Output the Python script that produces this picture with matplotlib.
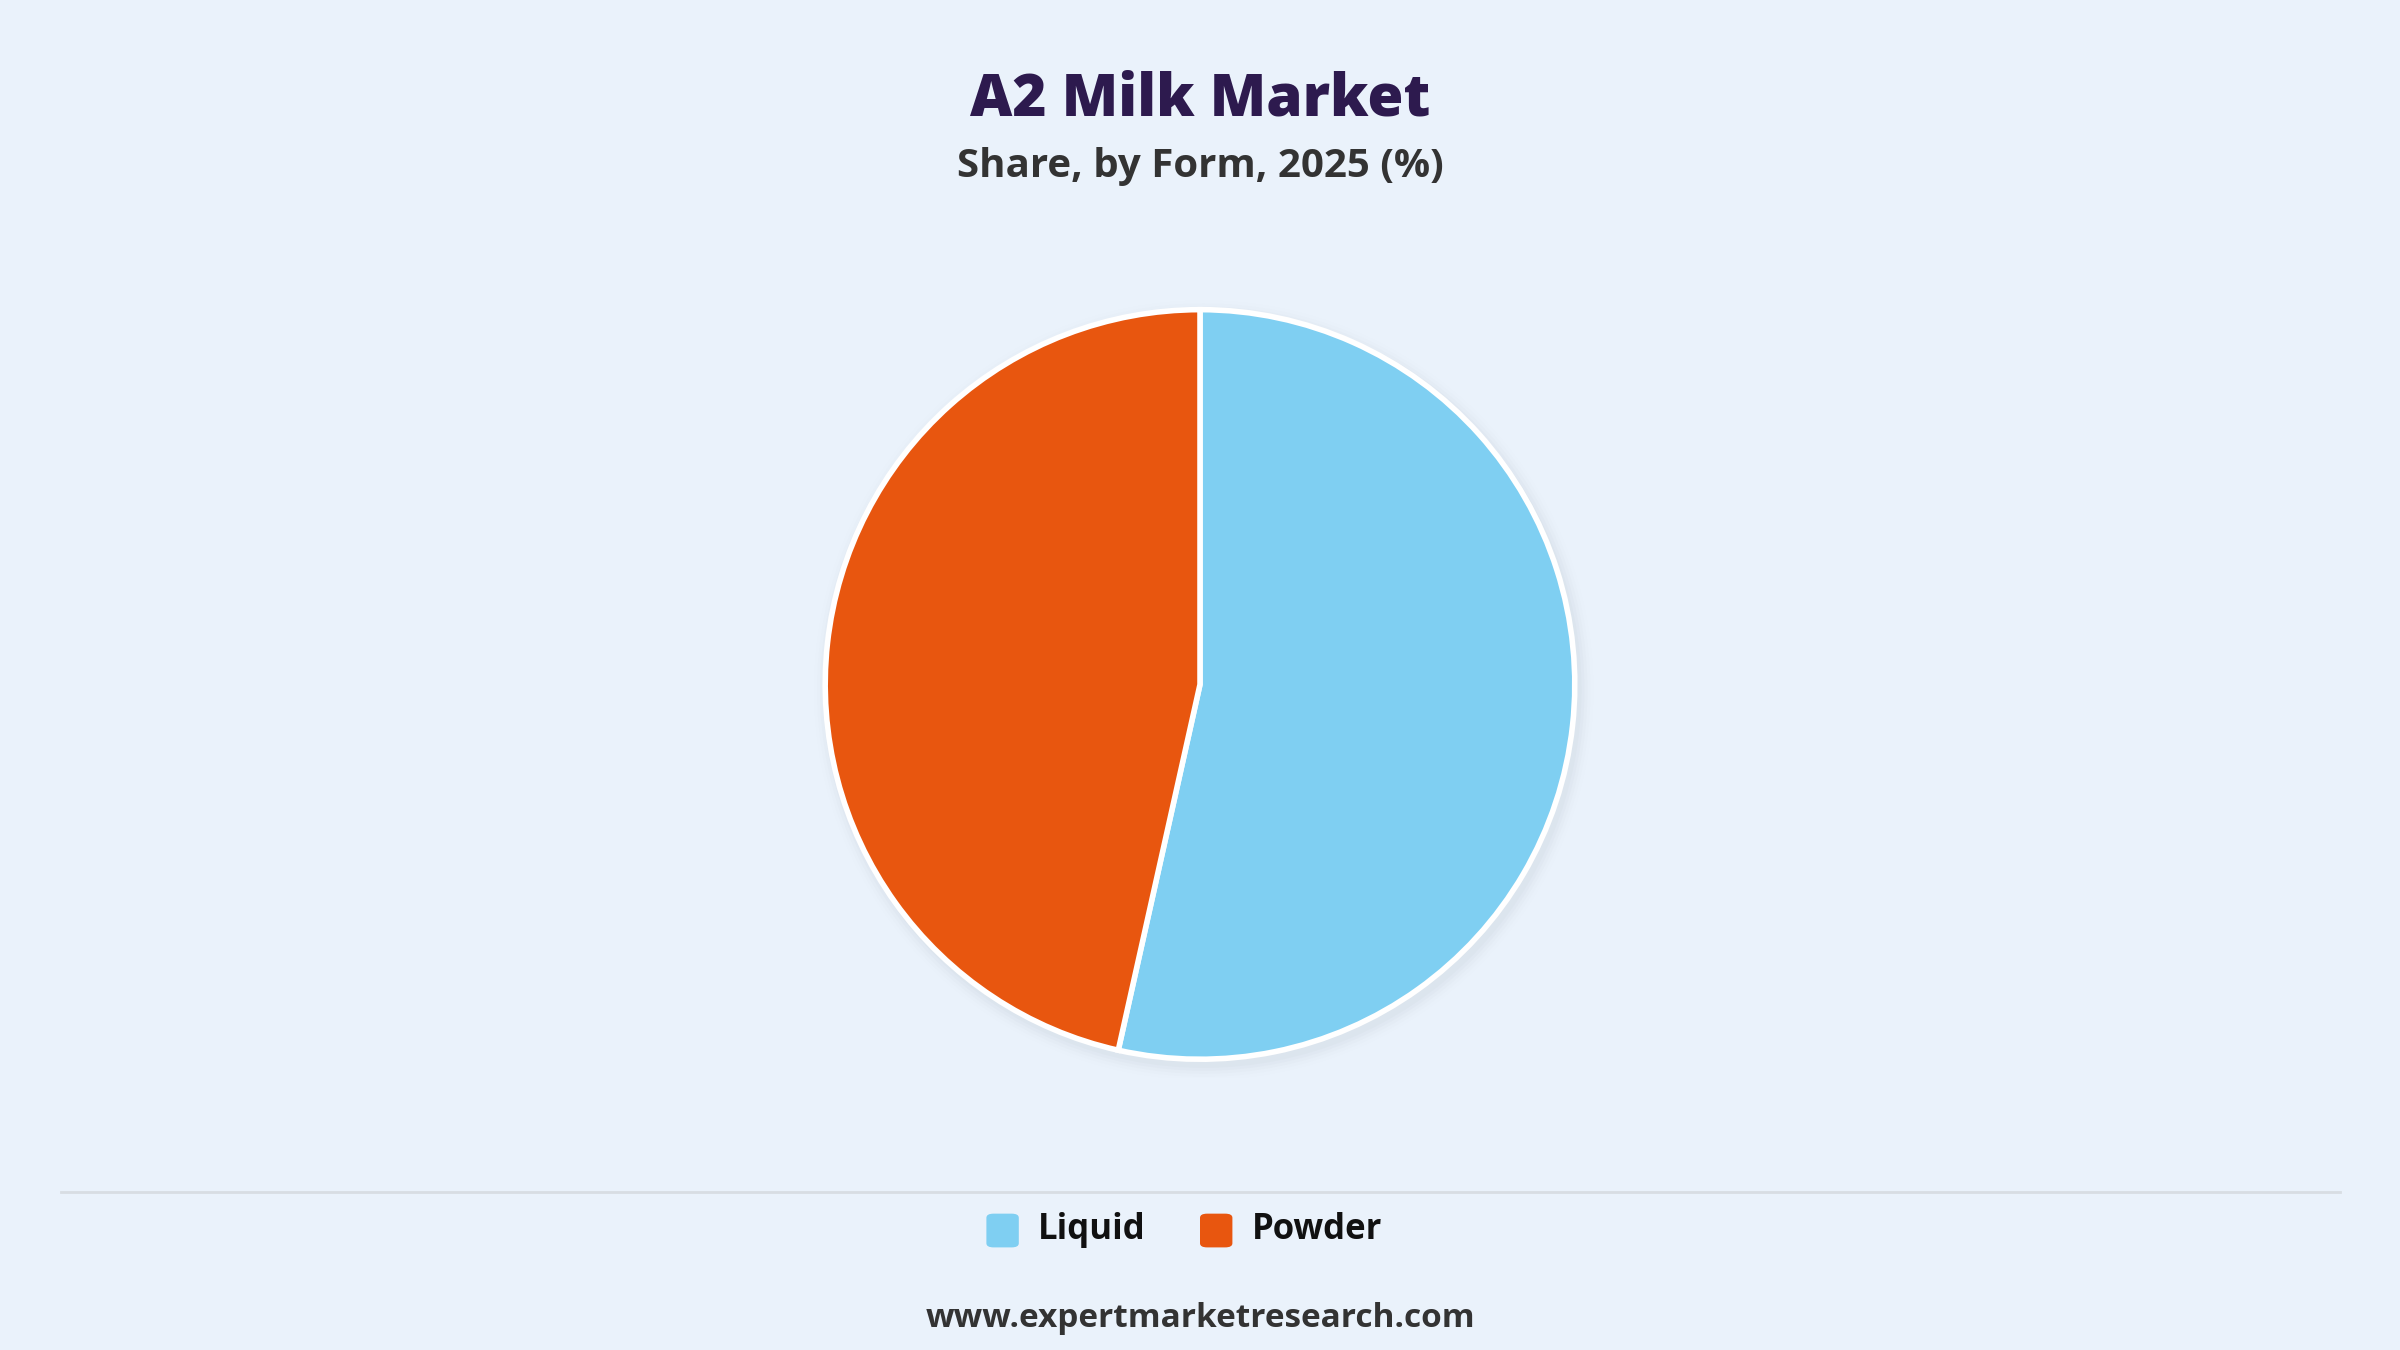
import matplotlib
matplotlib.use("Agg")
import matplotlib.pyplot as plt
from matplotlib.patches import Circle, FancyBboxPatch
from matplotlib.lines import Line2D

categories = ["Liquid", "Powder"]
values = [53.5, 46.5]
colors = ["#7fcff2", "#e8560f"]

bg = "#eaf2fb"
fig = plt.figure(figsize=(24, 13.5), dpi=100, facecolor=bg)
plt.rcParams['font.family'] = ['Open Sans', 'DejaVu Sans']

h = 0.583
w = h * 1350 / 2400
ax = fig.add_axes([0.5 - w / 2, 0.493 - h / 2, w, h])
ax.set_facecolor(bg)
ax.axis("off")
for i, a in enumerate([0.05, 0.04, 0.03, 0.02, 0.01]):
    ax.add_patch(Circle((0.01, -0.015), 1.0 + 0.008 * (i + 1), color="#9aa4b0", alpha=a, lw=0, zorder=0))
ax.pie(values, colors=colors, startangle=90, counterclock=False,
       wedgeprops=dict(edgecolor="white", linewidth=4), radius=1)
ax.set_xlim(-1.05, 1.05)
ax.set_ylim(-1.05, 1.05)
ax.set_aspect("equal")

fig.text(0.5, 0.926, "A2 Milk Market", ha="center", va="center", fontsize=42,
         fontweight="heavy", color="#2d1a4e")
fig.text(0.5, 0.877, "Share, by Form, 2025 (%)", ha="center", va="center", fontsize=29,
         fontweight="bold", color="#333333")
fig.add_artist(Line2D([0.0255, 0.975], [0.117, 0.117], color="#d8dde3", lw=2))

lx = [0.411, 0.500]
for x, c, lab in zip(lx, colors, categories):
    fig.add_artist(FancyBboxPatch((x, 0.076), 0.0135, 0.025, boxstyle="round,pad=0,rounding_size=0.003",
                                  transform=fig.transFigure, color=c, lw=0))
    fig.text(x + 0.0215, 0.089, lab, ha="left", va="center", fontsize=25, fontweight="bold", color="#111111")

fig.text(0.5, 0.023, "www.expertmarketresearch.com", ha="center", va="center", fontsize=24,
         fontweight="bold", color="#333333")
fig.savefig("out.png", dpi=100, facecolor=bg)
